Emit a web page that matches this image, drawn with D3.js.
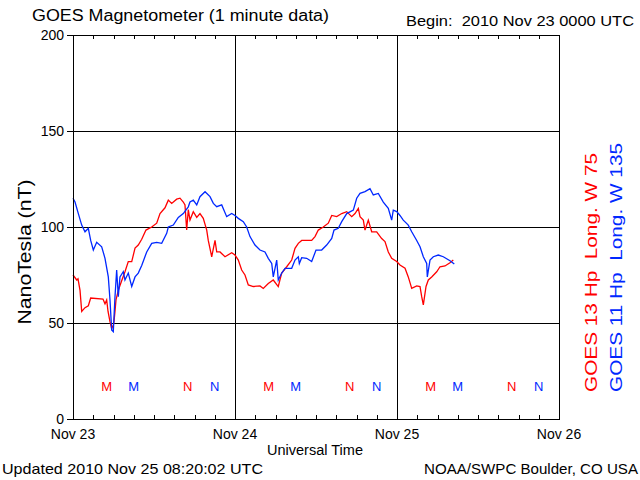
<!DOCTYPE html>
<html>
<head>
<meta charset="utf-8">
<script src="https://cdn.jsdelivr.net/npm/d3@7"></script>
<style>
  html, body { margin: 0; padding: 0; background: #fff; }
  svg { display: block; }
  text { font-family: "Liberation Sans", Arial, sans-serif; white-space: pre; }
</style>
</head>
<body>
<svg id="chart" width="640" height="480"></svg>
<script>
// ---- data (hours since 2010 Nov 23 00:00 UTC, nT) ----
const dayLabels = ["Nov 23", "Nov 24", "Nov 25", "Nov 26"];
const yTicks = [0, 50, 100, 150, 200];
const goes13 = [
  [0,75],[0.55,72.4],[0.74,73],[1.04,67],[1.29,56],[1.78,58],[2.27,59],[2.62,63],
  [4.44,62.5],[4.74,60],[4.99,62],[5.19,56],[5.48,50.7],[5.73,47],[5.97,49],[6.07,50.7],
  [6.22,56],[6.37,62],[6.71,67],[7.21,72],[7.70,76.7],[8.19,82],[8.70,82],[9.19,89],
  [9.67,90.6],[10.18,93.6],[10.81,98.4],[11.66,100],[12.40,102],[12.89,107],[13.63,110],
  [14.12,114],[14.62,112.3],[15.36,114.5],[15.85,115],[16.34,113],[16.59,111.5],
  [16.84,98.4],[17.08,109],[17.33,103.6],[17.82,108],[18.33,105],[18.81,107],[19.30,104.5],
  [19.81,98.4],[20.04,93],[20.55,84.5],[21.04,93],[21.29,87],[21.78,87],[22.52,84.5],
  [23.51,86.6],[24.0,85.4],[24.49,82.8],[24.99,77.6],[25.48,75],[25.97,69.8],[26.71,69],
  [27.70,69.3],[28.19,68],[28.93,70.6],[29.67,72.4],[30.41,69],[30.92,76],[31.66,79.3],
  [32.40,82.8],[32.89,88.9],[33.38,91.5],[33.88,93],[34.62,93],[35.36,93],[35.85,95],
  [36.34,98.4],[37.08,100],[37.82,102],[38.33,106],[39.07,105.4],[39.81,107],[40.55,108],
  [41.29,105.4],[41.78,107],[42.27,109.7],[42.52,105.4],[43.01,103.6],[43.26,98.4],
  [43.75,103.6],[44.25,97.5],[44.99,97.5],[45.73,94],[46.22,92.4],[46.71,87],[47.21,83.7],
  [47.96,82],[48.44,80.2],[49.19,78.5],[49.67,74],[50.18,68],[50.92,69.3],[51.41,69],
  [51.66,63.7],[51.90,59.4],[52.30,69],[52.64,72.4],[53.14,74],[53.88,76.7],[54.37,79.3],
  [55.11,79.7],[55.85,81.4],[56.34,82.8]
];
const goes11 = [
  [0,115],[0.30,113],[0.79,107],[1.29,101],[1.78,97.5],[2.27,99.3],[2.62,93],[3.01,88],
  [3.51,92],[4.25,89.7],[4.74,83.7],[5.23,74],[5.48,62],[5.73,46.4],[5.97,45.5],[6.22,63.7],
  [6.47,77.6],[6.71,63.7],[6.96,74],[7.45,76.7],[7.70,72.4],[8.19,76],[8.70,69],[9.19,74],
  [9.67,76],[10.18,80],[10.92,87],[11.66,91.5],[12.40,92],[13.14,91.5],[13.88,96.7],
  [14.12,100],[14.86,101],[15.60,105],[16.34,107],[17.08,110.5],[17.33,113],[17.82,114],
  [18.33,111.5],[18.81,115.8],[19.56,118.4],[20.30,115.8],[20.79,112.3],[21.29,110.6],
  [22.03,111.5],[22.77,105.4],[23.51,107],[24.0,106],[24.49,104.5],[25.23,102.8],
  [25.73,100],[26.22,95],[26.96,90.6],[27.70,88],[28.44,87],[28.93,83.7],[29.44,81],
  [29.67,74],[30.18,82.8],[30.41,72.4],[30.92,76],[31.41,78.5],[32.40,78.5],[32.89,82.8],
  [33.38,84.5],[33.53,81],[33.88,84],[34.62,83.7],[35.36,82],[36.0,88],[36.84,88],
  [37.58,90.6],[38.33,94],[38.67,98.4],[39.30,99.3],[39.81,102.8],[40.55,107],[41.53,108.8],
  [42.03,115],[42.52,117.5],[43.26,118.4],[44.0,120],[44.49,116.7],[45.23,117.5],[45.97,113],
  [46.71,109.7],[47.21,103.6],[47.45,108.8],[47.96,108],[48.44,106],[48.93,103.6],
  [49.67,101],[50.18,97.5],[50.92,93],[51.41,89.7],[51.90,84.5],[52.40,81],[52.49,74],
  [52.89,82.8],[53.38,84.5],[54.12,85.4],[54.86,84.5],[55.85,82.4],[56.49,80.7]
];
// local midnight (M) / noon (N) marker hours
const markers13 = [["M",5],["N",17],["M",29],["N",41],["M",53],["N",65]];
const markers11 = [["M",9],["N",21],["M",33],["N",45],["M",57],["N",69]];

const RED = "#ff0000", BLUE = "#0028ff";

const svg = d3.select("#chart");
const x = d3.scaleLinear().domain([0, 72]).range([73, 559]);
const y = d3.scaleLinear().domain([0, 200]).range([419, 35]);

// grid lines
const g = svg.append("g").attr("shape-rendering", "crispEdges");
g.selectAll(".hg").data([50, 100, 150]).enter().append("line")
  .attr("x1", x(0)).attr("x2", x(72)).attr("y1", d => y(d)).attr("y2", d => y(d))
  .attr("stroke", "#000").attr("stroke-width", 1);
g.selectAll(".vg").data([24, 48]).enter().append("line")
  .attr("y1", y(0)).attr("y2", y(200)).attr("x1", d => x(d)).attr("x2", d => x(d))
  .attr("stroke", "#000").attr("stroke-width", 1);

// data lines
const line = d3.line().x(d => x(d[0])).y(d => y(d[1]));
svg.append("path").datum(goes13).attr("d", line)
  .attr("fill", "none").attr("stroke", RED).attr("stroke-width", 1.3);
svg.append("path").datum(goes11).attr("d", line)
  .attr("fill", "none").attr("stroke", BLUE).attr("stroke-width", 1.3);

// axes
const hours = d3.range(0, 73, 3);
const axTop = d3.axisTop(x).tickValues(hours).tickSize(-4).tickFormat("");
const axBot = d3.axisBottom(x).tickValues(hours).tickSize(-4).tickFormat("");
const axLeft = d3.axisLeft(y).tickValues(yTicks).tickSize(6).tickPadding(3);
const axRight = d3.axisRight(y).tickValues([]).tickSize(0);

function style(sel) {
  sel.attr("shape-rendering", "crispEdges");
  sel.selectAll("path").attr("stroke", "#000");
  sel.selectAll("line").attr("stroke", "#000");
  sel.selectAll("text").attr("fill", "#000").attr("font-size", 14)
    .attr("font-family", "Liberation Sans, Arial, sans-serif");
}
svg.append("g").attr("transform", `translate(0,${y(200)})`).call(axTop).call(style);
svg.append("g").attr("transform", `translate(0,${y(0)})`).call(axBot).call(style);
svg.append("g").attr("transform", `translate(${x(0)},0)`).call(axLeft).call(style);
svg.append("g").attr("transform", `translate(${x(72)},0)`).call(axRight).call(style);

// day labels
svg.selectAll(".dl").data(dayLabels).enter().append("text")
  .attr("x", (d, i) => x(i * 24)).attr("y", 439)
  .attr("text-anchor", "middle").attr("font-size", 14).text(d => d);

// M / N markers
svg.selectAll(".m13").data(markers13).enter().append("text")
  .attr("x", d => x(d[1])).attr("y", 391).attr("text-anchor", "middle")
  .attr("font-size", 13).attr("fill", RED).text(d => d[0]);
svg.selectAll(".m11").data(markers11).enter().append("text")
  .attr("x", d => x(d[1])).attr("y", 391).attr("text-anchor", "middle")
  .attr("font-size", 13).attr("fill", BLUE).text(d => d[0]);

// titles and labels
svg.append("text").attr("x", 32).attr("y", 21).attr("font-size", 16)
  .attr("textLength", 297).attr("lengthAdjust", "spacingAndGlyphs")
  .text("GOES Magnetometer (1 minute data)");
svg.append("text").attr("x", 406).attr("y", 26).attr("font-size", 15)
  .attr("textLength", 228).attr("lengthAdjust", "spacingAndGlyphs")
  .text("Begin:  2010 Nov 23 0000 UTC");
svg.append("text").attr("x", 315).attr("y", 455).attr("text-anchor", "middle")
  .attr("font-size", 14).attr("textLength", 96).attr("lengthAdjust", "spacingAndGlyphs")
  .text("Universal Time");
svg.append("text").attr("x", 2).attr("y", 474).attr("font-size", 15)
  .attr("textLength", 261).attr("lengthAdjust", "spacingAndGlyphs")
  .text("Updated 2010 Nov 25 08:20:02 UTC");
svg.append("text").attr("x", 638).attr("y", 474).attr("font-size", 15)
  .attr("text-anchor", "end")
  .attr("textLength", 214).attr("lengthAdjust", "spacingAndGlyphs")
  .text("NOAA/SWPC Boulder, CO USA");
svg.append("text").attr("transform", "translate(31,252) rotate(-90)")
  .attr("text-anchor", "middle").attr("font-size", 18)
  .attr("textLength", 145).attr("lengthAdjust", "spacingAndGlyphs")
  .text("NanoTesla (nT)");
svg.append("text").attr("transform", "translate(597,392) rotate(-90)")
  .attr("font-size", 17).attr("fill", RED)
  .attr("textLength", 239).attr("lengthAdjust", "spacingAndGlyphs")
  .text("GOES 13 Hp  Long. W 75");
svg.append("text").attr("transform", "translate(622,392) rotate(-90)")
  .attr("font-size", 17).attr("fill", BLUE)
  .attr("textLength", 249).attr("lengthAdjust", "spacingAndGlyphs")
  .text("GOES 11 Hp  Long. W 135");
</script>
</body>
</html>
